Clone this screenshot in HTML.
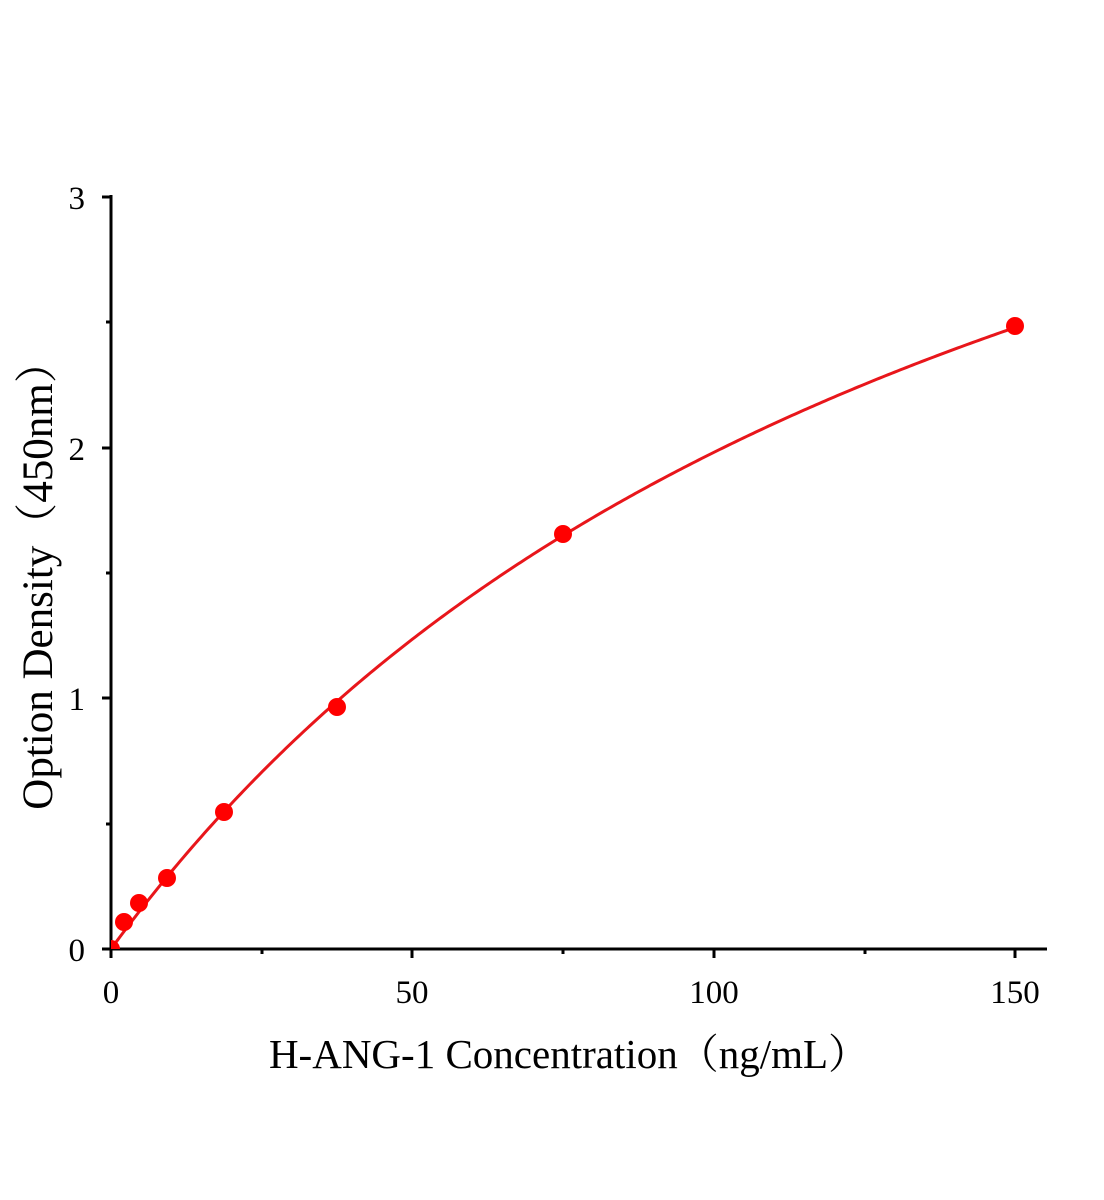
<!DOCTYPE html>
<html><head><meta charset="utf-8"><style>
html,body{margin:0;padding:0;background:#fff;}
svg{display:block;}
text{font-family:"Liberation Serif","Noto Serif CJK SC",serif;fill:#000;}
</style></head><body>
<svg id="s" width="1104" height="1200" viewBox="0 0 1104 1200" xmlns="http://www.w3.org/2000/svg">
<defs><clipPath id="c"><rect x="111" y="150" width="940" height="799"/></clipPath></defs>
<g stroke="#000" stroke-width="3" fill="none">
<line x1="111" y1="195" x2="111" y2="951"/>
<line x1="109" y1="949" x2="1047" y2="949"/>
<line x1="111" y1="949" x2="111" y2="958"/>
<line x1="412" y1="949" x2="412" y2="958"/>
<line x1="714" y1="949" x2="714" y2="958"/>
<line x1="1015" y1="949" x2="1015" y2="958"/>
<line x1="262" y1="949" x2="262" y2="954"/>
<line x1="563" y1="949" x2="563" y2="954"/>
<line x1="865" y1="949" x2="865" y2="954"/>
<line x1="102" y1="949" x2="111" y2="949"/>
<line x1="102" y1="698" x2="111" y2="698"/>
<line x1="102" y1="448" x2="111" y2="448"/>
<line x1="102" y1="197" x2="111" y2="197"/>
<line x1="106" y1="824" x2="111" y2="824"/>
<line x1="106" y1="573" x2="111" y2="573"/>
<line x1="106" y1="322" x2="111" y2="322"/>
</g>
<g font-size="33" text-anchor="end">
<text x="85" y="961">0</text><text x="85" y="710">1</text><text x="85" y="460">2</text><text x="85" y="209">3</text>
</g>
<g font-size="33" text-anchor="middle">
<text x="111" y="1003">0</text><text x="412" y="1003">50</text><text x="714" y="1003">100</text><text x="1015" y="1003">150</text>
</g>
<text x="569" y="1068" font-size="41" text-anchor="middle">H-ANG-1 Concentration（ng/mL）</text>
<text transform="translate(52,575) rotate(-90)" font-size="43" text-anchor="middle">Option Density（450nm）</text>
<g clip-path="url(#c)">
<path id="p" fill="none" stroke="#e8161b" stroke-width="3"/>
<g fill="#f00" id="pts"></g>
</g>
</svg>
<script>
var P=[[111,949],[124,922],[139,903],[167,878],[224,812],[337,707],[563,534],[1015,326]];
var d="";
for(var i=0;i<=300;i++){
 var x=i*0.5, y=4.99*x/(151.9+x);
 var px=111+x*6.027, py=949-y*250.67;
 d+=(i?" L":"M")+px.toFixed(2)+","+py.toFixed(2);
}
document.getElementById("p").setAttribute("d",d);
var g=document.getElementById("pts"),h="";
P.forEach(function(p){h+='<circle cx="'+p[0]+'" cy="'+p[1]+'" r="9"/>';});
g.innerHTML=h;
</script>
</body></html>
